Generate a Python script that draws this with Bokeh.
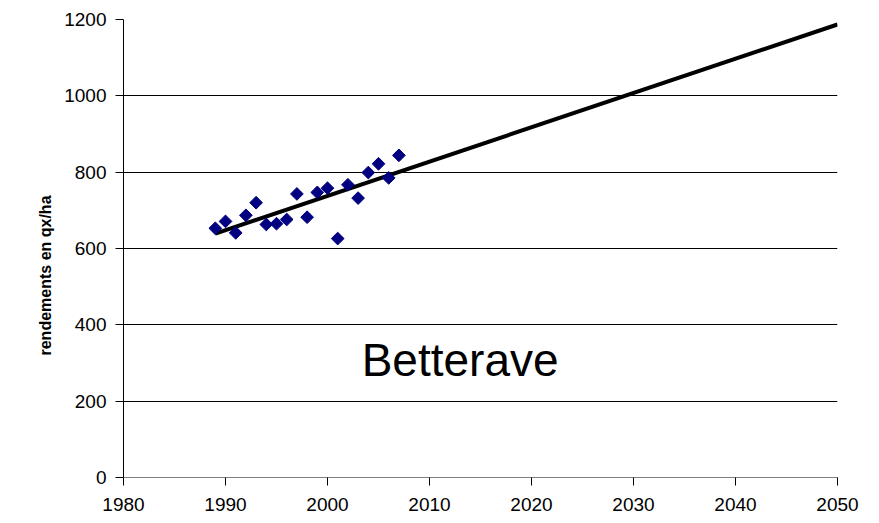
from bokeh.plotting import figure
from bokeh.models import Range1d, Label, FixedTicker, Title
from bokeh.embed import file_html
from bokeh.resources import INLINE
import math

# data
years = [1989, 1990, 1991, 1992, 1993, 1994, 1995, 1996, 1997, 1998,
         1999, 2000, 2001, 2002, 2003, 2004, 2005, 2006, 2007]
yields = [653, 671, 641, 687, 720, 663, 665, 676, 743, 682,
          747, 758, 626, 767, 732, 799, 822, 785, 844]
trend_years = [1989, 2050]
trend_values = [639, 1187]
x_ticks = [1980, 1990, 2000, 2010, 2020, 2030, 2040, 2050]
y_ticks = [0, 200, 400, 600, 800, 1000, 1200]

FONT = "Liberation Sans"

p = figure(width=879, height=523, output_backend="svg", toolbar_location=None,
           x_range=Range1d(1980, 2050), y_range=Range1d(0, 1200),
           min_border_left=123, min_border_right=42, min_border_top=19,
           min_border_bottom=46)
p.outline_line_color = None
p.background_fill_color = "white"
p.border_fill_color = "white"

p.xgrid.visible = False
p.ygrid.ticker = FixedTicker(ticks=y_ticks)
p.ygrid.grid_line_color = "black"
p.ygrid.grid_line_width = 1

p.xaxis.ticker = FixedTicker(ticks=x_ticks)
p.yaxis.ticker = FixedTicker(ticks=y_ticks)
for ax in (p.xaxis, p.yaxis):
    ax.major_tick_in = 0
    ax.major_tick_out = 8
    ax.minor_tick_line_color = None
    ax.major_label_text_font = FONT
    ax.major_label_text_font_size = "19px"
    ax.major_label_text_color = "black"
    ax.major_tick_line_color = "black"
p.xaxis.axis_line_color = "#808080"
p.yaxis.axis_line_color = "black"
p.xaxis.major_label_standoff = 12
p.yaxis.major_label_standoff = 9

p.add_layout(Title(text="rendements en qx/ha", align="left", offset=122,
                   text_font=FONT, text_font_style="bold",
                   text_font_size="16px", text_color="black", standoff=16),
             "left")

p.line(trend_years, trend_values, line_color="black", line_width=4)
p.scatter(years, yields, marker="square", size=9, angle=math.pi / 4,
          fill_color="#000080", line_color="#000080")

p.add_layout(Label(x=2013, y=307, text="Betterave", text_font=FONT,
                   text_font_size="46px", text_align="center",
                   text_baseline="middle", text_color="black"))

open("out.html", "w").write(file_html(p, INLINE))
